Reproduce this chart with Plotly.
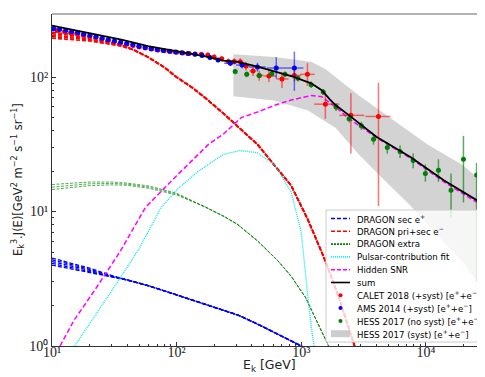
import plotly.graph_objects as go

# ---------------- data ----------------
# DRAGON pri+sec e- (bundle of 5 lines; they differ only at low energy)
red_E = [10, 15, 20, 30, 36, 45, 59, 80, 100, 135, 170, 236, 320, 445, 600, 830, 1130, 1560, 2000, 2700, 3300]
red_tail = [160, 141, 118, 100, 83, 70, 54, 42, 31.6, 22.5, 15.6, 8.7, 4.3, 2.3, 1.0, 0.55]
red_heads = [
    [216, 208, 199, 183, 174],
    [211, 204, 196, 181, 173],
    [205, 199, 192, 179, 172],
    [200, 195, 189, 177, 171],
    [195, 191, 186, 175, 170],
]

# DRAGON sec e+ (bundle of 5 lines)
blue_E = [10, 15, 20, 30, 40, 60, 100, 170, 240, 310, 450, 650, 830, 1000, 1200, 1500]
blue_tail = [3.1, 2.8, 2.4, 2.05, 1.85, 1.7, 1.45, 1.22, 1.1, 1.0, 0.9, 0.78]
blue_heads = [
    [4.5, 4.1, 3.8, 3.35],
    [4.38, 4.0, 3.72, 3.32],
    [4.25, 3.9, 3.65, 3.3],
    [4.12, 3.8, 3.58, 3.28],
    [4.0, 3.7, 3.52, 3.26],
]

# DRAGON extra (bundle of 3 lines)
green_E = [10, 15, 20, 30, 40, 60, 100, 170, 240, 310, 450, 650, 830, 1080, 1400, 1700, 2000]
green_tail = [10.8, 9.2, 8.0, 6.0, 4.3, 3.3, 2.3, 1.4, 0.95, 0.65]
green_heads = [
    [15.9, 16.4, 16.6, 16.6, 16.3, 15.5, 13.7],
    [15.2, 15.8, 16.1, 16.2, 16.0, 15.2, 13.5],
    [14.6, 15.2, 15.6, 15.8, 15.7, 14.9, 13.3],
]

# Pulsar-contribution fit
cyan_E = [15.2, 20, 32, 50, 75, 100, 150, 236, 323, 445, 606, 830, 1000, 1130, 1200, 1290]
cyan_F = [1.0, 1.45, 2.8, 5.3, 10.7, 14.5, 20, 26.6, 28.5, 27.4, 22.4, 14, 7, 2.3, 1.4, 0.9]

# Hidden SNR
mag_E = [11.6, 15, 22, 35, 56, 100, 180, 236, 330, 445, 620, 830, 1200, 1460, 1880, 2420, 4000, 7500, 14000, 31000]
mag_F = [1.0, 1.55, 2.6, 5.0, 10.7, 18.5, 31.6, 37.6, 50, 55, 62, 67.6, 73, 71.6, 60, 49, 35.6, 25, 16.6, 10.5]

# sum
sum_E = [10, 15, 20, 30, 36, 59, 100, 170, 236, 310, 445, 630, 830, 1200, 1460, 1700, 1880, 2420, 4000, 7500, 14000, 31600]
sum_F = [242, 224, 213, 198, 190, 170, 155, 143, 133, 130, 120, 110, 102, 90, 80, 68, 62, 52, 36, 25.5, 17, 10.8]

# CALET 2018
cal_E = [11, 12.6, 14.1, 15.8, 17.8, 20, 22.4, 25.1, 28.2, 31.6, 35.5, 39.8, 44.7, 50.1, 56.2, 63.1,
         70.8, 79.4, 89.1, 100, 112, 126, 141, 158, 178, 200, 230, 260, 290, 324, 360, 410, 460, 550,
         700, 880, 1120, 1560, 2500, 4160]
cal_F = [222, 218, 214, 211, 207, 202, 198, 193, 188, 184, 180, 176, 172, 168, 165, 162,
         159, 157, 155, 153, 151, 150, 149, 148, 146, 141, 137, 131, 131, 130, 121, 111, 103, 102,
         97, 103, 105, 63, 52, 51]
cal_up = [6, 6, 6, 6, 6, 6, 6, 6, 5, 5, 5, 5, 5, 5, 5, 5,
          5, 5, 5, 5, 5, 5, 5, 5, 6, 6, 6, 7, 7, 8, 9, 9, 9, 10,
          10, 11, 22, 13, 24, 40]
cal_dn = [6, 6, 6, 6, 6, 6, 6, 6, 5, 5, 5, 5, 5, 5, 5, 5,
          5, 5, 5, 5, 5, 5, 5, 5, 6, 6, 6, 7, 7, 8, 9, 9, 9, 10,
          14, 10, 19, 14, 25, 40]
cal_Elo = [11, 12.6, 14.1, 15.8, 17.8, 20, 22.4, 25.1, 28.2, 31.6, 35.5, 39.8, 44.7, 50.1, 56.2, 63.1,
           70.8, 79.4, 89.1, 100, 112, 126, 141, 158, 178, 200, 230, 245, 275, 307, 342, 385, 435, 500,
           630, 790, 980, 1270, 2020, 3270]
cal_Ehi = [11, 12.6, 14.1, 15.8, 17.8, 20, 22.4, 25.1, 28.2, 31.6, 35.5, 39.8, 44.7, 50.1, 56.2, 63.1,
           70.8, 79.4, 89.1, 100, 112, 126, 141, 158, 178, 200, 230, 275, 307, 342, 385, 435, 500, 630,
           790, 1000, 1280, 2020, 3200, 5200]

# AMS 2014
ams_E = [10.3, 11.5, 12.9, 14.4, 16.1, 18.0, 20.2, 22.6, 25.3, 28.3, 31.7, 35.5, 39.7, 44.4, 49.7, 55.7,
         62.3, 69.8, 78.1, 87.5, 98, 110, 123, 140, 160, 185, 215, 270, 335, 445, 630, 880]
ams_F = [229, 226, 222, 218, 214, 209, 205, 200, 195, 190, 186, 182, 178, 174, 170, 166,
         163, 160, 158, 156, 154, 152, 150, 148, 145, 140, 134, 127, 123, 119, 117, 117]
ams_up = [4, 4, 4, 4, 4, 4, 4, 4, 4, 4, 4, 4, 4, 4, 4, 4,
          4, 4, 4, 4, 4, 4, 4, 4, 5, 5, 5, 6, 7, 9, 24, 38]
ams_dn = [4, 4, 4, 4, 4, 4, 4, 4, 4, 4, 4, 4, 4, 4, 4, 4,
          4, 4, 4, 4, 4, 4, 4, 4, 5, 5, 5, 6, 7, 9, 19, 38]
ams_Elo = [10.3, 11.5, 12.9, 14.4, 16.1, 18.0, 20.2, 22.6, 25.3, 28.3, 31.7, 35.5, 39.7, 44.4, 49.7, 55.7,
           62.3, 69.8, 78.1, 87.5, 98, 110, 123, 140, 160, 185, 215, 240, 300, 380, 530, 760]
ams_Ehi = [10.3, 11.5, 12.9, 14.4, 16.1, 18.0, 20.2, 22.6, 25.3, 28.3, 31.7, 35.5, 39.7, 44.4, 49.7, 55.7,
           62.3, 69.8, 78.1, 87.5, 98, 110, 123, 140, 160, 185, 215, 300, 380, 520, 760, 1040]

# HESS 2017 (no syst)
hess_E = [295, 365, 460, 580, 740, 940, 1200, 1500, 1900, 2420, 3030, 3800, 4900, 6200, 7900,
          9900, 12600, 15900, 20000, 25500]
hess_F = [110, 105, 103, 106, 105, 98, 88, 77.6, 60, 49, 43.6, 34.5, 30, 28, 24,
          19.2, 20.3, 14.4, 24.5, 18.7]
hess_up = [5, 5, 5, 5, 5, 5, 5, 4, 4, 3, 3, 3, 3, 3, 3, 3.2, 4.2, 4.8, 12.1, 4.3]
hess_dn = [5, 5, 5, 5, 5, 5, 5, 4, 4, 3, 3, 3, 3, 3, 3, 2.5, 3.6, 5.4, 12.8, 15.7]

# HESS 2017 systematic band
band_up_E = [285, 610, 1200, 1560, 2900, 5500, 10300, 19400, 25500]
band_up_F = [148, 141, 130, 115, 73, 47.6, 31.6, 22.4, 18.2]
band_lo_E = [285, 606, 1130, 1880, 2900, 4500, 7500, 11700, 19400, 25500]
band_lo_F = [72, 67, 56.6, 42, 26.6, 17.6, 11.1, 7, 4.3, 3.06]

# axis ticks
xtick_vals = [10, 100, 1000, 10000]
xtick_text = ["10¹", "10²", "10³", "10⁴"]
ytick_vals = [1, 10, 100]
ytick_text = ["10⁰", "10¹", "10²"]

# legend entries (label, kind, colour, dash)
legend_items = [
    ("DRAGON sec e<sup>+</sup>", "line", "blue", "4px,2px"),
    ("DRAGON pri+sec e<sup>−</sup>", "line", "red", "4px,2px"),
    ("DRAGON extra", "line", "green", "2px,1px"),
    ("Pulsar-contribution fit", "line", "cyan", "1px,1px"),
    ("Hidden SNR", "line", "magenta", "4px,2px"),
    ("sum", "line", "black", "solid"),
    ("CALET 2018 (+syst) [e<sup>+</sup>+e<sup>−</sup>]", "dot", "red", None),
    ("AMS 2014 (+syst) [e<sup>+</sup>+e<sup>−</sup>]", "dot", "blue", None),
    ("HESS 2017 (no syst) [e<sup>+</sup>+e<sup>−</sup>]", "dot", "green", None),
    ("HESS 2017 (syst) [e<sup>+</sup>+e<sup>−</sup>]", "box", "rgba(200,200,200,0.9)", None),
]

fig = go.Figure()

# band
fig.add_trace(go.Scatter(
    x=band_up_E + band_lo_E[::-1], y=band_up_F + band_lo_F[::-1],
    fill="toself", fillcolor="rgba(200,200,200,0.8)", line=dict(width=0),
    mode="lines", showlegend=False, hoverinfo="skip"))

def bundle(E, heads, tail, color, dash, width):
    for h in heads:
        fig.add_trace(go.Scatter(
            x=E, y=h + tail, mode="lines",
            line=dict(color=color, dash=dash, width=width), showlegend=False))

bundle(green_E, green_heads, green_tail, "rgba(0,128,0,0.85)", "3px,1.5px", 0.8)
bundle(blue_E, blue_heads, blue_tail, "blue", "4px,2px", 1.3)
bundle(red_E, red_heads, red_tail, "red", "4px,2px", 1.6)

fig.add_trace(go.Scatter(x=cyan_E, y=cyan_F, mode="lines",
                         line=dict(color="rgba(0,230,230,1)", dash="1px,1px", width=1.3), showlegend=False))
fig.add_trace(go.Scatter(x=mag_E, y=mag_F, mode="lines",
                         line=dict(color="magenta", dash="5px,2.5px", width=1.5), showlegend=False))

def diffs(a, b):
    return [abs(x - y) for x, y in zip(a, b)]

fig.add_trace(go.Scatter(
    x=cal_E, y=cal_F, mode="markers", marker=dict(color="red", size=5),
    error_y=dict(type="data", symmetric=False, array=cal_up, arrayminus=cal_dn,
                 color="rgba(255,0,0,0.55)", thickness=1.5, width=0),
    error_x=dict(type="data", symmetric=False, array=diffs(cal_Ehi, cal_E),
                 arrayminus=diffs(cal_E, cal_Elo),
                 color="rgba(255,0,0,0.55)", thickness=1.5, width=0),
    showlegend=False))
fig.add_trace(go.Scatter(
    x=ams_E, y=ams_F, mode="markers", marker=dict(color="blue", size=5),
    error_y=dict(type="data", symmetric=False, array=ams_up, arrayminus=ams_dn,
                 color="rgba(0,0,255,0.55)", thickness=1.5, width=0),
    error_x=dict(type="data", symmetric=False, array=diffs(ams_Ehi, ams_E),
                 arrayminus=diffs(ams_E, ams_Elo),
                 color="rgba(0,0,255,0.55)", thickness=1.5, width=0),
    showlegend=False))
fig.add_trace(go.Scatter(
    x=hess_E, y=hess_F, mode="markers", marker=dict(color="green", size=5),
    error_y=dict(type="data", symmetric=False, array=hess_up, arrayminus=hess_dn,
                 color="rgba(0,128,0,0.65)", thickness=1.5, width=0),
    showlegend=False))

fig.add_trace(go.Scatter(x=sum_E, y=sum_F, mode="lines",
                         line=dict(color="black", width=1.8), showlegend=False))

minor_x = [m * 10 ** d for d in range(1, 5) for m in range(2, 10)]
minor_y = [m * 10 ** d for d in range(0, 3) for m in range(2, 10)]

# ---- plot-area geometry in pixels (for legend / titles placement) ----
W, H = 485, 377
ML, MR, MT, MB = 44, 6, 6, 39
PW, PH = W - ML - MR, H - MT - MB

def px(xpix):
    return (xpix - ML) / PW

def py(ypix):
    return (H - MB - ypix) / PH

shapes = [
    dict(type="line", xref="paper", yref="paper", x0=0, x1=1, y0=1, y1=1,
         line=dict(color="#999", width=1.5)),
    dict(type="line", xref="paper", yref="paper", x0=1, x1=1, y0=0, y1=1,
         line=dict(color="#999", width=1.5)),
    # legend frame
    dict(type="rect", xref="paper", yref="paper", x0=px(318), x1=px(475), y0=py(202), y1=py(334),
         fillcolor="rgba(255,255,255,0.8)", line=dict(color="#cccccc", width=1)),
]
annotations = []
row0, step = 210.5, 12.8
for i, (label, kind, color, dash) in enumerate(legend_items):
    yc = row0 + i * step
    if kind == "line":
        shapes.append(dict(type="line", xref="paper", yref="paper",
                           x0=px(323), x1=px(342), y0=py(yc), y1=py(yc),
                           line=dict(color=color, width=1.6, dash=dash)))
    elif kind == "dot":
        shapes.append(dict(type="circle", xref="paper", yref="paper",
                           x0=px(330.5), x1=px(334.5), y0=py(yc - 2), y1=py(yc + 2),
                           fillcolor=color, line=dict(color=color, width=0)))
    else:
        shapes.append(dict(type="rect", xref="paper", yref="paper",
                           x0=px(323), x1=px(342), y0=py(yc - 3.5), y1=py(yc + 3.5),
                           fillcolor=color, line=dict(width=0)))
    annotations.append(dict(text=label, xref="paper", yref="paper", x=px(347), y=py(yc),
                            xanchor="left", yanchor="middle", showarrow=False,
                            font=dict(family="DejaVu Sans", size=8.6, color="black")))

# axis titles
annotations.append(dict(text="E<sub>k</sub> [GeV]", xref="paper", yref="paper",
                        x=0.5, y=py(357), xanchor="center", yanchor="middle", showarrow=False,
                        font=dict(family="DejaVu Sans", size=12.5, color="#222")))
annotations.append(dict(text="E<sub>k</sub><sup>3</sup>.J(E)[GeV<sup>2</sup> m<sup>−2</sup> s<sup>−1</sup> sr<sup>−1</sup>]",
                        xref="paper", yref="paper", x=px(10), y=0.5, textangle=-90,
                        xanchor="center", yanchor="middle", showarrow=False,
                        font=dict(family="DejaVu Sans", size=11.5, color="#222")))

fig.update_layout(
    width=W, height=H,
    margin=dict(l=ML, r=MR, t=MT, b=MB),
    paper_bgcolor="white", plot_bgcolor="white",
    showlegend=False,
    xaxis=dict(type="log", range=[1, 4.49], tickmode="array", tickvals=xtick_vals,
               ticktext=xtick_text, ticks="inside", ticklen=4, tickcolor="#333",
               showline=True, linecolor="#333", linewidth=1, mirror=False,
               showgrid=False, zeroline=False, ticklabelstandoff=-7,
               tickfont=dict(family="Liberation Serif", size=14, color="#222"),
               minor=dict(tickvals=minor_x, ticks="inside", ticklen=2, tickcolor="#333", showgrid=False)),
    yaxis=dict(type="log", range=[0, 2.47], tickmode="array", tickvals=ytick_vals,
               ticktext=ytick_text, ticks="inside", ticklen=4, tickcolor="#333",
               showline=True, linecolor="#333", linewidth=1, mirror=False,
               showgrid=False, zeroline=False,
               tickfont=dict(family="Liberation Serif", size=14, color="#222"),
               minor=dict(tickvals=minor_y, ticks="inside", ticklen=2, tickcolor="#333", showgrid=False)),
    shapes=shapes,
    annotations=annotations,
)

fig.write_html("out.html")
